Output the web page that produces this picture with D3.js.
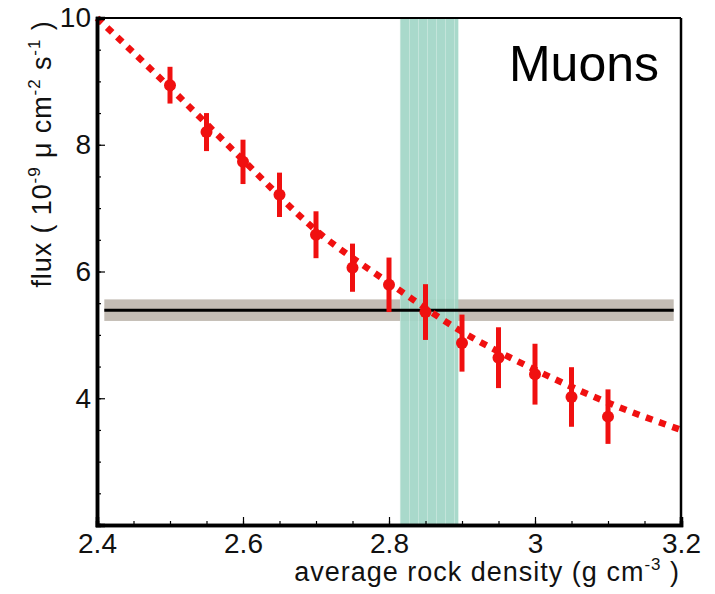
<!DOCTYPE html>
<html><head><meta charset="utf-8">
<script src="https://cdn.jsdelivr.net/npm/d3@7"></script>
<style>
html,body{margin:0;padding:0;background:#fff;}
svg text{font-family:"Liberation Sans",Arial,Helvetica,sans-serif;}
</style></head>
<body><svg id="chart" width="715" height="594"></svg>
<script>
// ---- data ----
const densities = [2.5, 2.55, 2.6, 2.65, 2.7, 2.75, 2.8, 2.85, 2.9, 2.95, 3.0, 3.05, 3.1];
const fluxValues = [8.94, 8.20, 7.73, 7.21, 6.58, 6.06, 5.79, 5.36, 4.87, 4.64, 4.38, 4.02, 3.71];
const fluxErrors = [0.29, 0.30, 0.35, 0.35, 0.37, 0.38, 0.43, 0.44, 0.45, 0.48, 0.48, 0.47, 0.43];
const curveDensities = [2.4, 2.5, 2.6, 2.7, 2.8, 2.9, 3.0, 3.1, 3.2];
const curveFlux = [10.0, 8.90, 7.76, 6.65, 5.82, 5.05, 4.45, 3.93, 3.50];
const measuredFlux = 5.39;          // horizontal line
const measuredBand = [5.22, 5.56];  // grey band
const measuredRange = [2.41, 3.19];
const densityBand = [2.815, 2.895]; // green band
const xTicks = [2.4, 2.6, 2.8, 3.0, 3.2];
const xTickLabels = ["2.4", "2.6", "2.8", "3", "3.2"];
const yTicks = [4, 6, 8, 10];
const yTickLabels = ["4", "6", "8", "10"];
const xDomain = [2.4, 3.2];
const yDomain = [2, 10];

// ---- chart ----
const svg = d3.select("#chart");
const x = d3.scaleLinear().domain(xDomain).range([97, 681]);
const y = d3.scaleLinear().domain(yDomain).range([525, 18]);

const defs = svg.append("defs");
const pat = defs.append("pattern").attr("id","stripes").attr("patternUnits","userSpaceOnUse")
  .attr("width", 9).attr("height", 10);
pat.append("rect").attr("width", 9).attr("height", 10).attr("fill", "#a2d6c6");
pat.append("line").attr("x1", 4.5).attr("x2", 4.5).attr("y1", 0).attr("y2", 10)
  .attr("stroke", "#ffffff").attr("stroke-opacity", 0.3).attr("stroke-width", 1);

// grey band
svg.append("rect")
  .attr("x", x(measuredRange[0])).attr("width", x(measuredRange[1]) - x(measuredRange[0]))
  .attr("y", y(measuredBand[1])).attr("height", y(measuredBand[0]) - y(measuredBand[1]))
  .attr("fill", "#c3bcb4");

// green band
svg.append("rect")
  .attr("x", x(densityBand[0])).attr("width", x(densityBand[1]) - x(densityBand[0]))
  .attr("y", y(yDomain[1])).attr("height", y(yDomain[0]) - y(yDomain[1]))
  .attr("fill", "url(#stripes)").attr("opacity", 0.92);

// black line
svg.append("line")
  .attr("x1", x(measuredRange[0])).attr("x2", x(measuredRange[1]))
  .attr("y1", y(measuredFlux)).attr("y2", y(measuredFlux))
  .attr("stroke", "#000").attr("stroke-width", 3);

// dashed curve
const line = d3.line().x((d, i) => x(curveDensities[i])).y(d => y(d)).curve(d3.curveMonotoneX);
svg.append("path").datum(curveFlux).attr("d", line)
  .attr("fill", "none").attr("stroke", "#f01010").attr("stroke-width", 6.5)
  .attr("stroke-dasharray", "7,7");

// error bars and points
const pts = svg.append("g");
pts.selectAll("line.err").data(densities).join("line").attr("class", "err")
  .attr("x1", d => x(d)).attr("x2", d => x(d))
  .attr("y1", (d, i) => y(fluxValues[i] + fluxErrors[i]))
  .attr("y2", (d, i) => y(fluxValues[i] - fluxErrors[i]))
  .attr("stroke", "#f01010").attr("stroke-width", 5);
pts.selectAll("circle").data(densities).join("circle")
  .attr("cx", d => x(d)).attr("cy", (d, i) => y(fluxValues[i])).attr("r", 6)
  .attr("fill", "#f01010");

// frame (top/right)
svg.append("line").attr("x1", x(xDomain[0])).attr("x2", x(xDomain[1]))
  .attr("y1", y(yDomain[1])).attr("y2", y(yDomain[1])).attr("stroke", "#000").attr("stroke-width", 2);
svg.append("line").attr("x1", x(xDomain[1])).attr("x2", x(xDomain[1]))
  .attr("y1", y(yDomain[1])).attr("y2", y(yDomain[0])).attr("stroke", "#000").attr("stroke-width", 2.5);

// axes
const minorX = d3.range(0, 17).map(i => xDomain[0] + i * 0.05);
const minorY = d3.range(0, 17).map(i => yDomain[0] + i * 0.5);

const gxMinor = svg.append("g").attr("transform", `translate(0,${y(yDomain[0])})`)
  .call(d3.axisBottom(x).tickValues(minorX).tickSize(-4).tickFormat(""));
const gx = svg.append("g").attr("transform", `translate(0,${y(yDomain[0])})`)
  .call(d3.axisBottom(x).tickValues(xTicks).tickSize(-8).tickPadding(8)
    .tickFormat((d, i) => xTickLabels[i]));
const gyMinor = svg.append("g").attr("transform", `translate(${x(xDomain[0])},0)`)
  .call(d3.axisLeft(y).tickValues(minorY).tickSize(-4).tickFormat(""));
const gy = svg.append("g").attr("transform", `translate(${x(xDomain[0])},0)`)
  .call(d3.axisLeft(y).tickValues(yTicks).tickSize(-8).tickPadding(6)
    .tickFormat((d, i) => yTickLabels[i]));

[gxMinor, gx, gyMinor, gy].forEach(g => {
  g.selectAll(".tick line").attr("stroke", "#000").attr("stroke-width", 1.2);
  g.select(".domain").attr("stroke", "#000").attr("stroke-width", 3.5);
  g.selectAll("text").attr("font-size", 28).attr("fill", "#111")
    .attr("font-family", "'Liberation Sans',Arial,sans-serif");
});

// title text
svg.append("text").attr("x", 659).attr("y", 81).attr("text-anchor", "end")
  .attr("font-size", 50).attr("fill", "#000").text("Muons");

// y axis label
const yl = svg.append("text").attr("transform", "translate(51,154) rotate(-90)")
  .attr("text-anchor", "middle").attr("font-size", 27).attr("fill", "#111")
  .attr("letter-spacing", 0.9);
yl.append("tspan").text("flux ( 10");
yl.append("tspan").attr("dy", -11).attr("font-size", 17).text("-9");
yl.append("tspan").attr("dy", 11).text(" \u03bc cm");
yl.append("tspan").attr("dy", -11).attr("font-size", 17).text("-2");
yl.append("tspan").attr("dy", 11).text(" s");
yl.append("tspan").attr("dy", -11).attr("font-size", 17).text("-1");
yl.append("tspan").attr("dy", 11).text(" )");

// x axis label
const xl = svg.append("text").attr("x", 680).attr("y", 581).attr("text-anchor", "end")
  .attr("font-size", 27).attr("fill", "#111").attr("letter-spacing", 1);
xl.append("tspan").text("average rock density (g cm");
xl.append("tspan").attr("dy", -11).attr("font-size", 17).text("-3");
xl.append("tspan").attr("dy", 11).text(" )");
</script></body></html>
